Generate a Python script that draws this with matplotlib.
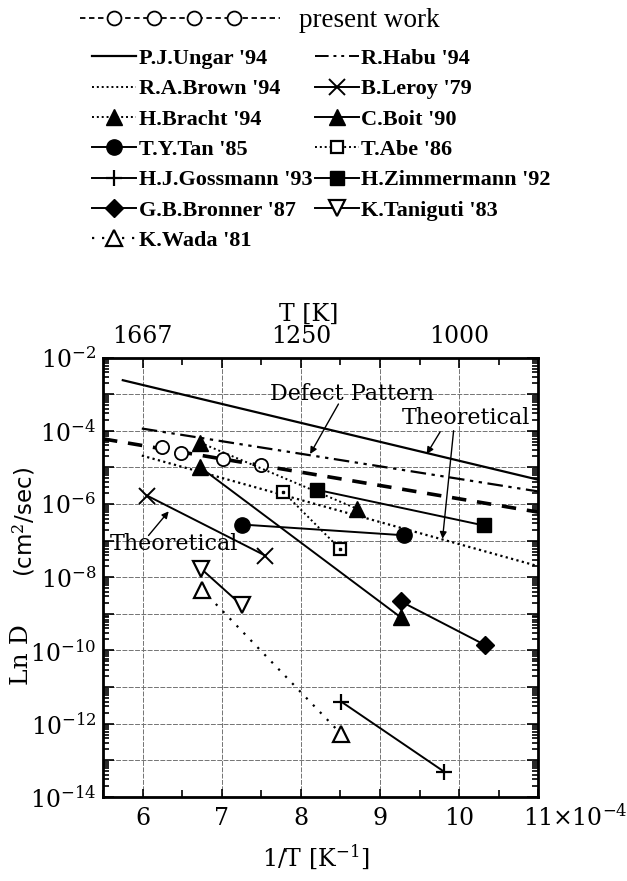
import numpy as np
import matplotlib
matplotlib.use('Agg')
import matplotlib.pyplot as plt
from matplotlib.lines import Line2D
from matplotlib.legend_handler import HandlerLine2D
from matplotlib.ticker import FixedLocator, NullFormatter, LogLocator, FuncFormatter
import matplotlib.transforms as mtransforms

plt.rcParams['font.family'] = 'DejaVu Serif'
plt.rcParams['mathtext.fontset'] = 'dejavuserif'

# x = 1/T in units of 1e-4 K^-1, y = D in cm^2/sec
present_x = [6.245, 6.485, 7.01, 7.49]
present_D = [3.51e-5, 2.45e-5, 1.66e-5, 1.17e-5]
present_fit_x = [5.5, 11.0]
present_fit_D = [6.0e-5, 6.0e-7]

ungar_x = [5.75, 11.0]
ungar_D = [2.4e-3, 4.6e-6]
habu_x = [5.99, 11.0]
habu_D = [1.15e-4, 2.2e-6]
brown_x = [5.99, 11.0]
brown_D = [2.1e-5, 2.0e-8]
leroy_x = [6.055, 7.55]
leroy_D = [1.7e-6, 3.9e-8]
bracht_x = [6.73, 8.71]
bracht_D = [4.7e-5, 7.4e-7]
boit_x = [6.73, 9.26]
boit_D = [1.0e-5, 8.1e-10]
tan_x = [7.255, 9.30]
tan_D = [2.75e-7, 1.4e-7]
abe_x = [7.78, 8.50]
abe_D = [2.1e-6, 5.8e-8]
gossmann_x = [8.51, 9.81]
gossmann_D = [4.0e-12, 4.9e-14]
zimmermann_x = [8.20, 10.31]
zimmermann_D = [2.45e-6, 2.6e-7]
bronner_x = [9.26, 10.33]
bronner_D = [2.2e-9, 1.4e-10]
taniguti_x = [6.74, 7.255]
taniguti_D = [1.7e-8, 1.7e-9]
wada_x = [6.75, 8.51]
wada_D = [4.6e-9, 5.2e-13]

bottom_ticks = [6, 7, 8, 9, 10, 11]
top_ticks = [6, 7, 8, 9, 10]
top_labels = ['1667', '', '1250', '', '1000']

fig = plt.figure(figsize=(6.27, 8.81), dpi=100)
ax = fig.add_axes([0.1643, 0.0954, 0.6942, 0.4988])

dotted = (0, (1, 1.5))
habu_ls = (0, (7, 2.5, 1.5, 2.5, 1.5, 2.5))
wada_ls = (0, (1, 3.5))
lw = 1.4

ax.plot(present_fit_x, present_fit_D, color='k', lw=2.6, ls=(0, (4, 3)))
ax.plot(present_x, present_D, ls='none', marker='o', ms=9.5, mfc='white', mec='k', mew=1.3)
ax.plot(ungar_x, ungar_D, color='k', lw=1.6)
ax.plot(habu_x, habu_D, color='k', lw=1.6, ls=habu_ls)
ax.plot(brown_x, brown_D, color='k', lw=1.6, ls=dotted)
ax.plot(leroy_x, leroy_D, color='k', lw=lw, marker='x', ms=11, mew=1.4)
ax.plot(bracht_x, bracht_D, color='k', lw=lw, ls=dotted, marker='^', ms=11)
ax.plot(boit_x, boit_D, color='k', lw=lw, marker='^', ms=11)
ax.plot(tan_x, tan_D, color='k', lw=lw, marker='o', ms=11)
ax.plot(abe_x, abe_D, color='k', lw=lw, ls=dotted, marker='s', ms=9, mfc='white', mew=1.6)
ax.plot(abe_x, abe_D, ls='none', marker='s', ms=1.5, color='k')
ax.plot(gossmann_x, gossmann_D, color='k', lw=lw, marker='+', ms=12, mew=1.6)
ax.plot(zimmermann_x, zimmermann_D, color='k', lw=lw, marker='s', ms=10)
ax.plot(bronner_x, bronner_D, color='k', lw=lw, marker='D', ms=9)
ax.plot(taniguti_x, taniguti_D, color='k', lw=lw, marker='v', ms=11, mfc='white', mew=1.6)
ax.plot(wada_x, wada_D, color='k', lw=1.6, ls=wada_ls, marker='^', ms=11, mfc='white', mew=1.6)

ax.set_yscale('log')
ax.set_xlim(5.5, 11.0)
ax.set_ylim(1e-14, 1e-2)

ax.xaxis.set_major_locator(FixedLocator(bottom_ticks))
ax.xaxis.set_minor_locator(FixedLocator(np.arange(5.5, 11.0, 1.0)))
ax.set_xticklabels(['6', '7', '8', '9', '10', '11'])
ax.yaxis.set_major_locator(FixedLocator([10.0 ** e for e in range(-14, -1)]))
ax.yaxis.set_minor_locator(LogLocator(base=10, subs=np.arange(2, 10), numticks=50))
ax.yaxis.set_minor_formatter(NullFormatter())
ax.yaxis.set_major_formatter(FuncFormatter(
    lambda v, p: r'$10^{%d}$' % round(np.log10(v)) if round(np.log10(v)) % 2 == 0 else ''))

ax.tick_params(which='both', direction='in', right=True, top=False, labelsize=17, width=1.2)
ax.tick_params(axis='x', which='major', length=6, pad=7)
ax.tick_params(axis='x', which='minor', length=5)
ax.tick_params(axis='y', which='major', length=8, pad=5)
ax.tick_params(axis='y', which='minor', length=4)
for s in ax.spines.values():
    s.set_linewidth(2)

ax.grid(True, which='major', color='0.45', lw=0.7, ls=(0, (5, 1.5)))

axt = ax.twiny()
axt.set_xlim(ax.get_xlim())
axt.xaxis.set_major_locator(FixedLocator(top_ticks))
axt.xaxis.set_minor_locator(FixedLocator(np.arange(6.5, 11.0, 1.0)))
axt.set_xticklabels(top_labels)
axt.tick_params(which='both', direction='in', labelsize=17, width=1.2)
axt.tick_params(which='major', length=7, pad=7)
axt.tick_params(which='minor', length=5)

# offset text after the 11 label
trans = mtransforms.blended_transform_factory(ax.transData, ax.transAxes)
ax.text(11.17, -0.047, r'$\times 10^{-4}$', transform=trans, ha='left', va='center',
        fontsize=17, clip_on=False)

fig.text(309 / 627, 1 - 314 / 881, 'T [K]', ha='center', va='center', fontsize=17)
fig.text(316 / 627, 1 - 857 / 881, r'1/T [K$^{-1}$]', ha='center', va='center', fontsize=17)
fig.text(22 / 627, 1 - 655 / 881, 'Ln D', rotation=90, ha='center', va='center', fontsize=18)
fig.text(24 / 627, 1 - 522 / 881, r'(cm$^2$/sec)', rotation=90, ha='center', va='center',
         fontsize=16.5, family='DejaVu Sans')

# annotations
arrow = dict(arrowstyle='-|>', lw=1.0, color='k', mutation_scale=10, shrinkA=0, shrinkB=0)
ax.text(7.61, 10 ** -2.99, 'Defect Pattern', ha='left', va='center', fontsize=16)
ax.annotate('', xy=(8.117, 10 ** -4.635), xytext=(8.475, 10 ** -3.27), arrowprops=arrow)
ax.text(10.09, 10 ** -3.64, 'Theoretical', ha='center', va='center', fontsize=16)
ax.annotate('', xy=(9.59, 10 ** -4.635), xytext=(9.76, 10 ** -4.03), arrowprops=arrow)
ax.annotate('', xy=(9.79, 10 ** -6.95), xytext=(9.93, 10 ** -4.0), arrowprops=arrow)
ax.text(6.40, 10 ** -7.09, 'Theoretical', ha='center', va='center', fontsize=16)
ax.annotate('', xy=(6.33, 10 ** -6.20), xytext=(6.075, 10 ** -6.86), arrowprops=arrow)


# legend
class FullLineHandler(HandlerLine2D):
    # dashes run the whole handle, the four circles sit inside it
    def create_artists(self, legend, orig_handle, xdescent, ydescent, width, height,
                       fontsize, trans):
        x0 = -xdescent
        marks = np.linspace(x0 + 1.25 * fontsize, x0 + width - 1.7 * fontsize, 4)
        xs = np.concatenate([[x0], marks, [x0 + width]])
        ys = np.full_like(xs, (height - ydescent) / 2)
        line = Line2D(xs, ys)
        self.update_prop(line, orig_handle, legend)
        line.set_markevery([1, 2, 3, 4])
        line.set_transform(trans)
        return [line]


def proxy(**kw):
    d = dict(color='k', lw=1.4)
    d.update(kw)
    return Line2D([], [], **d)

h_present = proxy(ls=(0, (3, 2)), lw=1.3, marker='o', ms=10, mfc='white', mew=1.3)
leg0 = fig.legend([h_present], ['present work'], loc='upper left',
                  bbox_to_anchor=(80 / 627, 1 - 8 / 881), frameon=False,
                  handler_map={h_present: FullLineHandler()},
                  handlelength=7.4, handletextpad=0.7, borderpad=0, borderaxespad=0,
                  prop={'family': 'Liberation Serif', 'size': 19.5})

col1 = [
    (proxy(lw=1.6), "P.J.Ungar '94"),
    (proxy(ls=dotted), "R.A.Brown '94"),
    (proxy(ls=dotted, marker='^', ms=11), "H.Bracht '94"),
    (proxy(marker='o', ms=11), "T.Y.Tan '85"),
    (proxy(marker='+', ms=12, mew=1.6), "H.J.Gossmann '93"),
    (proxy(marker='D', ms=9), "G.B.Bronner '87"),
    (proxy(ls=wada_ls, lw=1.6, marker='^', ms=11, mfc='white', mew=1.6), "K.Wada '81"),
]
col2 = [
    (proxy(lw=1.4, ls=habu_ls), "R.Habu '94"),
    (proxy(marker='x', ms=11, mew=1.4), "B.Leroy '79"),
    (proxy(marker='^', ms=11), "C.Boit '90"),
    (proxy(ls=dotted, marker='s', ms=9, mfc='white', mew=1.6), "T.Abe '86"),
    (proxy(marker='s', ms=10), "H.Zimmermann '92"),
    (proxy(marker='v', ms=11, mfc='white', mew=1.6), "K.Taniguti '83"),
]
entries = col1 + col2
leg1 = fig.legend([e[0] for e in entries], [e[1] for e in entries], ncol=2,
                  loc='upper left', bbox_to_anchor=(92 / 627, 1 - 48.5 / 881),
                  frameon=False, numpoints=1, handlelength=2.0, handletextpad=0.1,
                  columnspacing=0.1, labelspacing=0.44, borderpad=0, borderaxespad=0,
                  prop={'family': 'Liberation Serif', 'weight': 'bold', 'size': 16})

fig.savefig('out.png', dpi=100)
